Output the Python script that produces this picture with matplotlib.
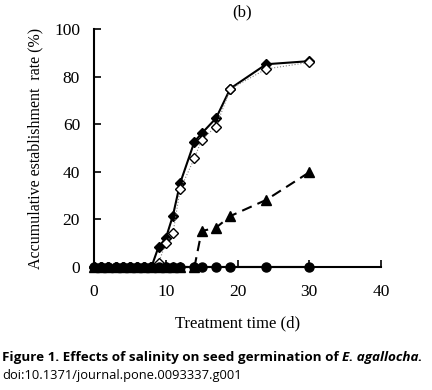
import matplotlib
matplotlib.use("Agg")
import matplotlib.pyplot as plt

# days and accumulative establishment rate (%)
days_early = list(range(0, 13))
days_late = [14, 15, 17, 19, 24, 30]

diam_days = list(range(0, 9)) + [9, 10, 11, 12, 14, 15, 17, 19, 24, 30]
filled_diam = [0] * 9 + [8.5, 12, 21.6, 35.2, 52.7, 56.1, 62.5, 75, 85.2, 86.5]
open_diam = [0] * 9 + [1.8, 9.9, 14.1, 32.6, 45.7, 53.5, 59.0, 74.8, 83.2, 86.0]

tri_days = days_early + days_late
tri_vals = [0] * 13 + [0, 15.1, 16.5, 21.4, 28.2, 39.8]

circ_days = days_early + days_late
circ_vals = [0] * 19

xticks = [0, 10, 20, 30, 40]
yticks = [0, 20, 40, 60, 80, 100]

plt.rcParams["font.family"] = ["Liberation Serif", "DejaVu Serif"]

fig = plt.figure(figsize=(4.32, 3.90), dpi=100)
ax = fig.add_axes([0.2176, 0.3154, 0.6644, 0.6102])

ax.plot(tri_days, tri_vals, color="black", lw=1.5, ls=(0, (5, 3)),
        marker="^", ms=6.5, mfc="black", mec="black", clip_on=False, zorder=3)
ax.plot(diam_days, open_diam, color="gray", lw=0.8, ls=":",
        marker="D", ms=5.5, mfc="white", mec="black", mew=1.0, clip_on=False, zorder=5)
ax.plot(diam_days, filled_diam, color="black", lw=1.5,
        marker="D", ms=5.5, mfc="black", mec="black", clip_on=False, zorder=4)
ax.plot(circ_days, circ_vals, color="black", lw=1.5,
        marker="o", ms=6.5, mfc="black", mec="black", clip_on=False, zorder=6)

ax.set_xlim(0, 40)
ax.set_ylim(0, 100)
ax.set_xticks(xticks)
ax.set_yticks(yticks)
for s in ["top", "right"]:
    ax.spines[s].set_visible(False)
for s in ["left", "bottom"]:
    ax.spines[s].set_linewidth(1.5)
ax.tick_params(axis="both", direction="in", length=5, width=1.2, labelsize=12.5)
ax.tick_params(axis="x", pad=12)
ax.tick_params(axis="y", pad=10)

ax.set_xlabel("Treatment time (d)", fontsize=12, labelpad=11)
ax.set_ylabel("Accumulative establishment  rate (%)", fontsize=11.5, labelpad=8)
ax.text(0.516, 1.07, "(b)", transform=ax.transAxes, ha="center", va="center", fontsize=12)

cap_font = ["Open Sans", "DejaVu Sans"]
t1 = fig.text(0.005, 1 - 358 / 390, "Figure 1. Effects of salinity on seed germination of ",
              family=cap_font, fontsize=9.7, weight="bold", va="center", ha="left")
fig.canvas.draw()
bb = t1.get_window_extent()
x2 = bb.x1 / fig.bbox.width
fig.text(x2, 1 - 358 / 390, "E. agallocha.", family=cap_font, fontsize=9.7,
         weight="bold", style="italic", va="center", ha="left")
fig.text(0.005, 1 - 376 / 390, "doi:10.1371/journal.pone.0093337.g001",
         family=cap_font, fontsize=9.3, va="center", ha="left")

fig.savefig("out.png", dpi=100)
